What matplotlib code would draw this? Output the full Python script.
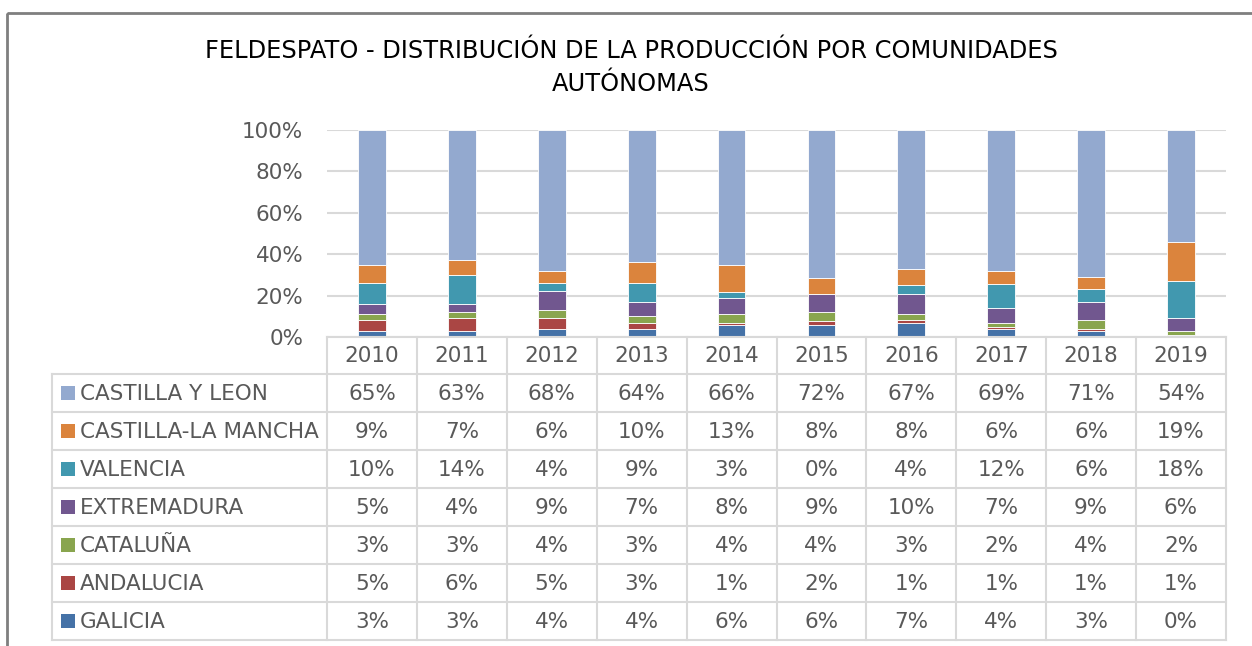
import numpy as np
import matplotlib
matplotlib.use("Agg")
import matplotlib.pyplot as plt
from matplotlib.patches import Rectangle
from matplotlib.transforms import blended_transform_factory

years = ["2010", "2011", "2012", "2013", "2014", "2015", "2016", "2017", "2018", "2019"]

# bottom to top of the stack
regions = ["GALICIA", "ANDALUCIA", "CATALUÑA", "EXTREMADURA", "VALENCIA",
           "CASTILLA-LA MANCHA", "CASTILLA Y LEON"]
colors = ["#4572A7", "#AA4644", "#89A54E", "#71578F", "#4198AF", "#DB843D", "#93A9CF"]

galicia = [3, 3, 4, 4, 6, 6, 7, 4, 3, 0]
andalucia = [5, 6, 5, 3, 1, 2, 1, 1, 1, 1]
cataluna = [3, 3, 4, 3, 4, 4, 3, 2, 4, 2]
extremadura = [5, 4, 9, 7, 8, 9, 10, 7, 9, 6]
valencia = [10, 14, 4, 9, 3, 0, 4, 12, 6, 18]
castilla_mancha = [9, 7, 6, 10, 13, 8, 8, 6, 6, 19]
castilla_leon = [65, 63, 68, 64, 66, 72, 67, 69, 71, 54]

series = [galicia, andalucia, cataluna, extremadura, valencia, castilla_mancha, castilla_leon]

W, H = 1252, 646
fig = plt.figure(figsize=(W / 100, H / 100), dpi=100)
fig.patch.set_facecolor("white")

grid_c = "#D9D9D9"
txt_c = "#595959"

# bar area in pixel units
px_left, px_right, px_top, px_bottom = 327, 1226, 130, 337
ax = fig.add_axes([px_left / W, 1 - px_bottom / H, (px_right - px_left) / W, (px_bottom - px_top) / H])

data = np.array(series, dtype=float)
shares = data / data.sum(axis=0)
x = np.arange(len(years))
bottom = np.zeros(len(years))
for vals, col in zip(shares, colors):
    ax.bar(x, vals, 0.31, bottom=bottom, color=col, edgecolor="#FFFFFF", linewidth=0.6, zorder=3)
    bottom += vals

ax.set_xlim(-0.5, len(years) - 0.5)
ax.set_ylim(0, 1)
ax.set_yticks(np.arange(0, 1.01, 0.2))
ax.set_yticklabels([f"{int(round(v * 100))}%" for v in np.arange(0, 1.01, 0.2)])
ax.tick_params(axis="y", length=0, pad=17, labelsize=15.5, labelcolor=txt_c)
ax.set_xticks([])
ax.grid(axis="y", color=grid_c, linewidth=1.5, zorder=0)
for s in ax.spines.values():
    s.set_visible(False)

# overlay in pixel coordinates for the table, title and border
ov = fig.add_axes([0, 0, 1, 1], facecolor="none")
ov.set_xlim(0, W)
ov.set_ylim(H, 0)
ov.axis("off")
tr = blended_transform_factory(ax.transData, ov.transData)

ov.add_patch(Rectangle((7, 13), W + 20, H + 20, fill=False, edgecolor="#7F7F7F", linewidth=2))

ov.text(631, 51, "FELDESPATO - DISTRIBUCIÓN DE LA PRODUCCIÓN POR COMUNIDADES",
        ha="center", va="center", fontsize=17.4, color="#000000")
ov.text(631, 84, "AUTÓNOMAS", ha="center", va="center", fontsize=17.4, color="#000000")

# table grid
row_h = 38
header_top = px_bottom
rows_top = 374
n_rows = len(regions)
table_bottom = rows_top + n_rows * row_h
ov.plot([px_left, px_right], [header_top, header_top], color=grid_c, lw=1.5)
for r in range(n_rows + 1):
    y = rows_top + r * row_h
    ov.plot([52, px_right], [y, y], color=grid_c, lw=1.5)
ov.plot([52, 52], [rows_top, table_bottom], color=grid_c, lw=1.5)
for i in range(len(years) + 1):
    ov.plot([i - 0.5, i - 0.5], [header_top, table_bottom], color=grid_c, lw=1.5, transform=tr)

for i, yr in enumerate(years):
    ov.text(i, (header_top + rows_top) / 2 + 1, yr, ha="center", va="center",
            fontsize=15.5, color=txt_c, transform=tr)

# rows top to bottom: reverse of stack order
for r, k in enumerate(range(n_rows - 1, -1, -1)):
    yc = rows_top + r * row_h + row_h / 2 + 1
    ov.add_patch(Rectangle((61, yc - 8), 14, 14, color=colors[k], linewidth=0))
    ov.text(80, yc, regions[k], ha="left", va="center", fontsize=15.5, color=txt_c)
    for i, v in enumerate(series[k]):
        ov.text(i, yc, f"{v}%", ha="center", va="center", fontsize=15.5, color=txt_c, transform=tr)

fig.savefig("out.png", dpi=100, facecolor="white")
